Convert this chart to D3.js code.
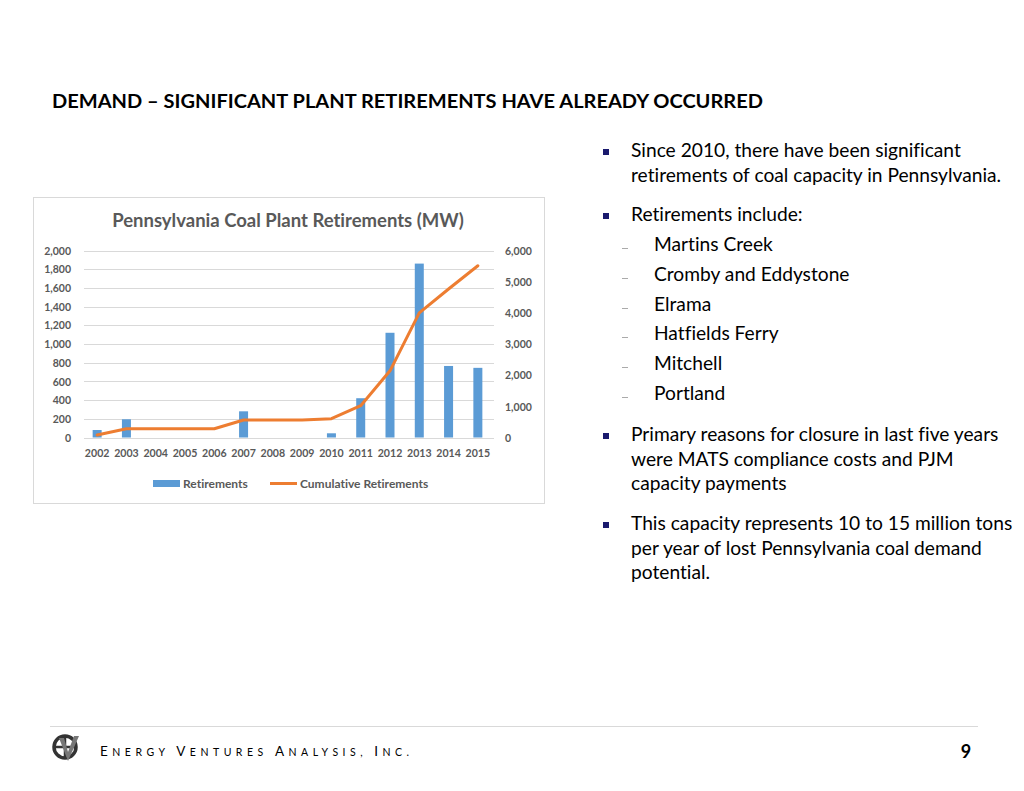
<!DOCTYPE html>
<html><head><meta charset="utf-8">
<script src="https://cdn.jsdelivr.net/npm/d3@7"></script>
<style>body{margin:0;background:#fff;} svg{display:block;} text{font-variant-ligatures:none;}</style>
</head><body>
<div id="chart"></div>
<script>
const years = ["2002","2003","2004","2005","2006","2007","2008","2009","2010","2011","2012","2013","2014","2015"];
const retirements = [80,195,0,0,0,280,0,0,45,420,1120,1860,765,745];
const cumulative = [80,280,280,280,280,560,560,560,605,1020,2140,4000,4765,5510];
const leftTicks = [0,200,400,600,800,1000,1200,1400,1600,1800,2000];
const rightTicks = [0,1000,2000,3000,4000,5000,6000];
const bullets = [
  {type:"main", lines:["Since 2010, there have been significant","retirements of coal capacity in Pennsylvania."], y:151},
  {type:"main", lines:["Retirements include:"], y:215},
  {type:"sub", lines:["Martins Creek"], y:245},
  {type:"sub", lines:["Cromby and Eddystone"], y:275},
  {type:"sub", lines:["Elrama"], y:305},
  {type:"sub", lines:["Hatfields Ferry"], y:334},
  {type:"sub", lines:["Mitchell"], y:364},
  {type:"sub", lines:["Portland"], y:394},
  {type:"main", lines:["Primary reasons for closure in last five years","were MATS compliance costs and PJM","capacity payments"], y:435},
  {type:"main", lines:["This capacity represents 10 to 15 million tons","per year of lost Pennsylvania coal demand","potential."], y:524}
];

const W=1024,H=791;
const font = "Lato, 'Open Sans', sans-serif";
const svg = d3.select("#chart").append("svg").attr("width",W).attr("height",H);
svg.append("rect").attr("width",W).attr("height",H).attr("fill","#fff");

svg.append("text").attr("x",52).attr("y",108).attr("font-family",font).attr("font-weight","bold")
  .attr("font-size",18).attr("fill","#000").attr("textLength",711).attr("lengthAdjust","spacingAndGlyphs")
  .text("DEMAND – SIGNIFICANT PLANT RETIREMENTS HAVE ALREADY OCCURRED");

svg.append("rect").attr("x",33.5).attr("y",197.5).attr("width",511).attr("height",306)
  .attr("fill","#fff").attr("stroke","#d9d9d9").attr("stroke-width",1);

svg.append("text").attr("x",288).attr("y",227).attr("text-anchor","middle").attr("font-family",font)
  .attr("font-weight","bold").attr("font-size",18.5).attr("fill","#595959")
  .text("Pennsylvania Coal Plant Retirements (MW)");

const x = d3.scaleBand().domain(years).range([82.5,492.5]).paddingInner(0).paddingOuter(0);
const yL = d3.scaleLinear().domain([0,2000]).range([437.5,250.5]);
const yR = d3.scaleLinear().domain([0,6000]).range([437.5,250.5]);

const g = svg.append("g");
g.selectAll("line.grid").data(leftTicks).join("line")
  .attr("x1",84).attr("x2",494).attr("y1",d=>Math.round(yL(d))+0.5).attr("y2",d=>Math.round(yL(d))+0.5)
  .attr("stroke","#d9d9d9").attr("stroke-width",1);

const axL = d3.axisLeft(yL).tickValues(leftTicks).tickFormat(d3.format(",")).tickSize(0).tickPadding(0);
const gl = svg.append("g").attr("transform","translate(71,0)").call(axL);
gl.select(".domain").remove();
gl.selectAll("text").attr("font-family",font).attr("font-weight","bold").attr("font-size",10.5).attr("fill","#595959").attr("dy","0.35em");

const axR = d3.axisRight(yR).tickValues(rightTicks).tickFormat(d3.format(",")).tickSize(0).tickPadding(0);
const gr = svg.append("g").attr("transform","translate(505,0)").call(axR);
gr.select(".domain").remove();
gr.selectAll("text").attr("font-family",font).attr("font-weight","bold").attr("font-size",10.5).attr("fill","#595959").attr("dy","0.35em");

const axB = d3.axisBottom(x).tickSize(0).tickPadding(0);
const gb = svg.append("g").attr("transform","translate(0,449)").call(axB);
gb.select(".domain").remove();
gb.selectAll("text").attr("font-family",font).attr("font-weight","bold").attr("font-size",10.6).attr("fill","#595959").attr("dy","0.71em");

const bw = 9;
g.selectAll("rect.bar").data(years.map((y,i)=>({y,v:retirements[i]}))).join("rect")
  .attr("x",d=>x(d.y)+x.bandwidth()/2-bw/2).attr("width",bw)
  .attr("y",d=>yL(d.v)).attr("height",d=>yL(0)-yL(d.v)).attr("fill","#5b9bd5");

const line = d3.line().x((d,i)=>x(years[i])+x.bandwidth()/2).y(d=>yR(d));
g.append("path").datum(cumulative).attr("d",line).attr("fill","none").attr("stroke","#ed7d31")
  .attr("stroke-width",3).attr("stroke-linejoin","round").attr("stroke-linecap","round");

svg.append("rect").attr("x",153).attr("y",480).attr("width",27).attr("height",7).attr("fill","#5b9bd5");
svg.append("text").attr("x",183).attr("y",487.5).attr("font-family",font).attr("font-weight","bold").attr("font-size",12).attr("fill","#595959").text("Retirements");
svg.append("line").attr("x1",270).attr("x2",297).attr("y1",483.5).attr("y2",483.5).attr("stroke","#ed7d31").attr("stroke-width",3);
svg.append("text").attr("x",300).attr("y",487.5).attr("font-family",font).attr("font-weight","bold").attr("font-size",12).attr("fill","#595959").text("Cumulative Retirements");

const tg = svg.append("g");
bullets.forEach(b=>{
  if(b.type==="main"){
    tg.append("rect").attr("x",603).attr("y",b.y-2).attr("width",6).attr("height",6).attr("fill","#1a1a6e");
    b.lines.forEach((l,i)=>{
      tg.append("text").attr("x",631).attr("y",b.y+6+i*24.5).attr("font-family",font).attr("font-size",19.2).attr("fill","#000").text(l);
    });
  } else {
    tg.append("line").attr("x1",622).attr("x2",628).attr("y1",b.y+3.5).attr("y2",b.y+3.5).attr("stroke","#aaa").attr("stroke-width",1);
    tg.append("text").attr("x",654).attr("y",b.y+6).attr("font-family",font).attr("font-size",19.2).attr("fill","#000").text(b.lines[0]);
  }
});

svg.append("line").attr("x1",50).attr("x2",978).attr("y1",726.5).attr("y2",726.5).attr("stroke","#d9d9d9").attr("stroke-width",1);
const lg = svg.append("g").attr("transform","translate(65,747)");
lg.append("circle").attr("r",11).attr("fill","none").attr("stroke","#333").attr("stroke-width",3.5);
lg.append("line").attr("x1",0).attr("x2",0).attr("y1",-12).attr("y2",12).attr("stroke","#333").attr("stroke-width",2.5);
lg.append("line").attr("x1",-12).attr("x2",12).attr("y1",0).attr("y2",0).attr("stroke","#333").attr("stroke-width",2.5);
lg.append("path").attr("d","M-6,-9 L3,14 L14,-11 L9,-11 L3,5 L-1,-9 Z").attr("fill","#777");

const ft = svg.append("text").attr("x",100).attr("y",756).attr("font-family",font).attr("fill","#000").attr("letter-spacing","4.5px");
const parts = [["E",13.5],["NERGY ",10.5],["V",13.5],["ENTURES ",10.5],["A",13.5],["NALYSIS, ",10.5],["I",13.5],["NC.",10.5]];
parts.forEach(p=>ft.append("tspan").attr("font-size",p[1]).text(p[0]));
svg.append("text").attr("x",966).attr("y",758).attr("text-anchor","middle").attr("font-family",font).attr("font-weight","bold").attr("font-size",18).attr("fill","#000").text("9");
</script>
</body></html>
